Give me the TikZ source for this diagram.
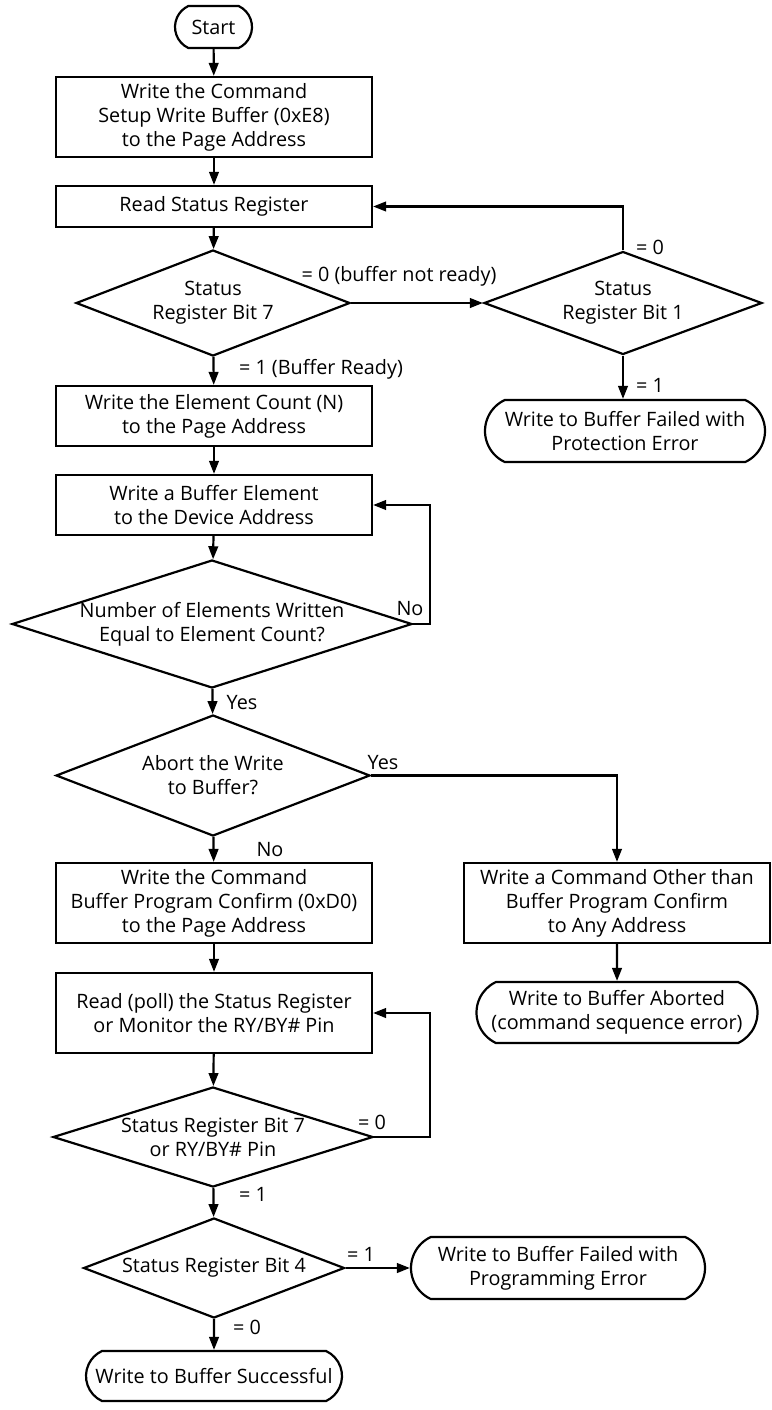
\documentclass[tikz,border=0pt]{standalone}
\usepackage{fontspec}
\setmainfont{Open Sans}
\usetikzlibrary{arrows.meta,shapes.geometric,shapes.misc}

\begin{document}
\begin{tikzpicture}[x=0.5pt,y=-0.5pt,
  font=\fontsize{9.9}{12}\selectfont, line width=1.1pt,
  procbox/.style={draw, rectangle, align=center, inner sep=0pt, minimum width=158pt},
  termbox/.style={draw, rounded rectangle, rounded rectangle arc length=130, align=center, inner sep=0pt},
  decision/.style={draw, diamond, inner sep=0pt},
  lbl/.style={inner sep=0pt},
  arr/.style={-{Triangle[length=6.5pt,width=4.8pt]}}]
\useasboundingbox (0,0) rectangle (772,1410);
% main column
\node[termbox, minimum width=38.5pt, minimum height=21pt] (start) at (213.5,27) {Start};
\node[procbox, minimum height=40pt] (b1) at (214,117) {Write the Command\\Setup Write Buffer (0xE8)\\to the Page Address};
\node[procbox, minimum height=20.5pt] (b2) at (214,206.5) {Read Status Register};
\node[decision, minimum width=137pt, minimum height=53pt,
  label={[align=center]center:Status\\Register Bit 7}] (d1) at (213,303) {};
\node[decision, minimum width=139pt, minimum height=51.5pt,
  label={[align=center]center:Status\\Register Bit 1}] (d2) at (623,303) {};
\node[termbox, minimum width=140pt, minimum height=31pt] (t1) at (625,431) {Write to Buffer Failed with\\Protection Error};
\node[procbox, minimum height=30pt] (b3) at (214,416) {Write the Element Count (N)\\to the Page Address};
\node[procbox, minimum height=30pt] (b4) at (214,505) {Write a Buffer Element\\to the Device Address};
\node[decision, minimum width=200pt, minimum height=64pt,
  label={[align=center]center:Number of Elements Written\\Equal to Element Count?}] (d3) at (212,624) {};
\node[decision, minimum width=157pt, minimum height=60.5pt,
  label={[align=center]center:Abort the Write\\to Buffer?}] (d4) at (213,775.5) {};
\node[procbox, minimum height=40pt] (b5) at (214,903) {Write the Command\\Buffer Program Confirm (0xD0)\\to the Page Address};
\node[procbox, minimum width=153pt, minimum height=40pt] (b6) at (617,903) {Write a Command Other than\\Buffer Program Confirm\\to Any Address};
\node[termbox, minimum width=140.5pt, minimum height=30.5pt] (t2) at (617,1012.5) {Write to Buffer Aborted\\(command sequence error)};
\node[procbox, minimum height=40pt] (b7) at (214,1013) {Read (poll) the Status Register\\or Monitor the RY/BY\# Pin};
\node[decision, minimum width=160pt, minimum height=50pt,
  label={[align=center]center:Status Register Bit 7\\or RY/BY\# Pin}] (d5) at (213,1137) {};
\node[decision, minimum width=130.5pt, minimum height=50pt,
  label={center:Status Register Bit 4}] (d6) at (214,1268) {};
\node[termbox, minimum width=147pt, minimum height=31pt] (t3) at (558,1268) {Write to Buffer Failed with\\Programming Error};
\node[termbox, minimum width=128pt, minimum height=25pt] (t4) at (214,1376) {Write to Buffer Successful};
\coordinate (loopx) at (430,0);
% connectors
\draw[arr] (start) -- (b1);
\draw[arr] (b1) -- (b2);
\draw[arr] (b2) -- (d1);
\draw[arr] (d1.east) -- (d2.west);
\draw[arr] (d2.north) |- (b2.east);
\draw[arr] (d2.south) -- (d2.south |- t1.north);
\draw[arr] (d1) -- (b3);
\draw[arr] (b3) -- (b4);
\draw[arr] (b4) -- (d3);
\draw[arr] (d3.east) -- (d3.east -| loopx) |- (b4.east);
\draw[arr] (d3) -- (d4);
\draw[arr] (d4.east) -| (b6.north);
\draw[arr] (d4) -- (b5);
\draw[arr] (b6) -- (t2);
\draw[arr] (b5) -- (b7);
\draw[arr] (b7) -- (d5);
\draw[arr] (d5.east) -- (d5.east -| loopx) |- (b7.east);
\draw[arr] (d5) -- (d6);
\draw[arr] (d6.east) -- (t3.west);
\draw[arr] (d6) -- (t4);
% branch labels
\foreach \x/\y/\lab [count=\i] in {399/276/= 0 (buffer not ready), 650/247/= 0, 650/385/= 1,
    321/369/= 1 (Buffer Ready), 410/609/No, 242/703/Yes, 383/763/Yes, 270/850/No,
    372/1122/= 0, 253/1194/= 1, 361/1254/= 1, 247/1327/= 0}
  \node[lbl] (lab\i) at (\x,\y) {\lab};
\end{tikzpicture}
\end{document}
